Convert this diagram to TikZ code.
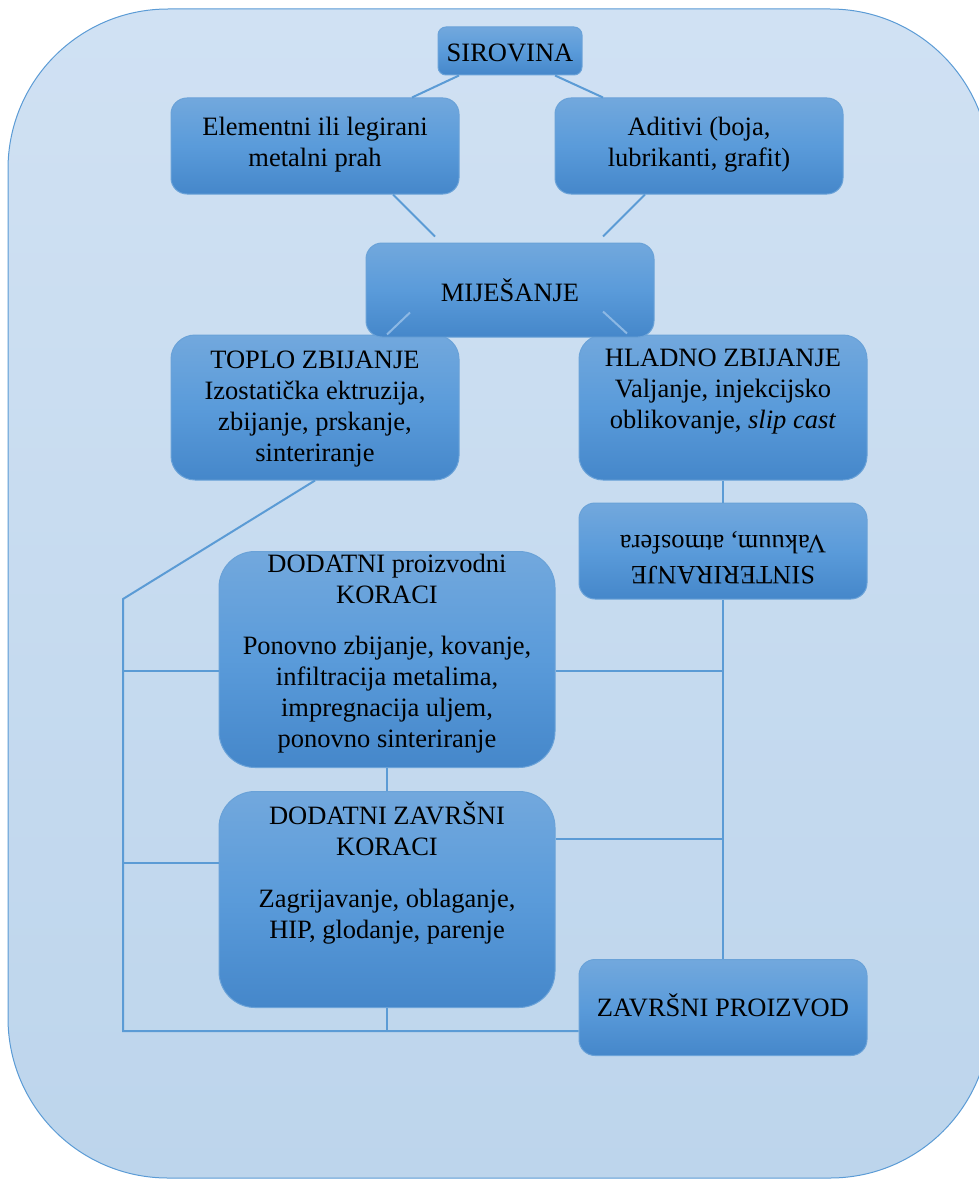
\documentclass[tikz,border=0pt]{standalone}
\usepackage{fontspec}
\setmainfont{Liberation Serif}
\usetikzlibrary{calc}
\definecolor{bgtop}{HTML}{D0E1F3}
\definecolor{bgbot}{HTML}{BDD5EC}
\definecolor{bgline}{HTML}{5B9BD5}
\definecolor{boxtop}{HTML}{72A8DD}
\definecolor{boxmid}{HTML}{5A9BDA}
\definecolor{boxbot}{HTML}{4587CA}
\definecolor{boxline}{HTML}{6AA2D8}
\definecolor{conn}{HTML}{5B9BD5}
\definecolor{connlight}{HTML}{8CB8E4}
\tikzset{
  box/.style={rectangle, draw=boxline, line width=1pt, top color=boxtop, bottom color=boxbot, middle color=boxmid, inner sep=0pt},
  txt/.style={anchor=base, align=center, inner sep=0pt, font=\fontsize{26.5}{31}\selectfont},
  link/.style={draw=conn, line width=2pt},
  linklight/.style={draw=connlight, line width=2pt},
}
\begin{document}
\begin{tikzpicture}[x=1pt,y=-1pt]
\useasboundingbox (0,0) rectangle (979,1180);
\clip (0,0) rectangle (979,1180);
% background
\path[draw=bgline, line width=1pt, top color=bgtop, bottom color=bgbot, rounded corners=160pt] (8,9) rectangle (990,1178);

% boxes (positions)
\coordinate (csir) at (510,51);
\coordinate (celem) at (315,146);
\coordinate (cadit) at (699,146);
\coordinate (cmij) at (510,290);
\coordinate (ctoplo) at (315,407.5);
\coordinate (chlad) at (723,407.5);
\coordinate (csint) at (723,551);
\coordinate (cdpk) at (387,659.5);
\coordinate (cdzk) at (387,899.5);
\coordinate (czp) at (723,1007.5);

% connector points
\coordinate (lt) at (123,599);
\coordinate (lb) at (123,1031);
\coordinate (l1) at (123,671);
\coordinate (l2) at (123,863);
\coordinate (r1) at (723,671);
\coordinate (r2) at (723,839);

\node[box, minimum width=144pt, minimum height=48pt, rounded corners=8pt] (sir) at (csir) {};
\node[box, minimum width=288pt, minimum height=96pt, rounded corners=16pt] (elem) at (celem) {};
\node[box, minimum width=288pt, minimum height=96pt, rounded corners=16pt] (adit) at (cadit) {};
\node[box, minimum width=288pt, minimum height=145pt, rounded corners=24pt] (toplo) at (ctoplo) {};
\node[box, minimum width=288pt, minimum height=145pt, rounded corners=24pt] (hlad) at (chlad) {};
\node[box, minimum width=288pt, minimum height=94pt, rounded corners=16pt] (mij) at (cmij) {};
\node[box, minimum width=288pt, minimum height=96pt, rounded corners=16pt] (sint) at (csint) {};
\node[box, minimum width=336pt, minimum height=216pt, rounded corners=36pt] (dpk) at (cdpk) {};
\node[box, minimum width=336pt, minimum height=216pt, rounded corners=36pt] (dzk) at (cdzk) {};
\node[box, minimum width=288pt, minimum height=96pt, rounded corners=16pt] (zp) at (czp) {};

% connectors
\draw[link] ($(sir.south)+(-51,0)$) -- ($(elem.north)+(97,0)$);
\draw[link] ($(sir.south)+(45,0)$) -- ($(adit.north)+(-96,0)$);
\draw[link] ($(elem.south)+(78,0)$) -- ($(mij.north)+(-75,-6)$);
\draw[link] ($(adit.south)+(-54,0)$) -- ($(mij.north)+(93,-6)$);
\draw[linklight] ($(mij.south)+(-100,-25)$) -- ($(toplo.north)+(72,0)$);
\draw[linklight] ($(mij.south)+(93,-26)$) -- ($(hlad.north)+(-96,-1)$);
\draw[link] (toplo.south) -- (lt) -- (lb) -- (zp.west |- lb);
\draw[link] (l1) -- (dpk.west |- l1);
\draw[link] (l2) -- (dzk.west |- l2);
\draw[link] (dpk.east |- r1) -- (r1);
\draw[link] (dzk.east |- r2) -- (r2);
\draw[link] (hlad.south) -- (sint.north);
\draw[link] (sint.south) -- (zp.north);
\draw[link] (dpk.south) -- (dzk.north);
\draw[link] (dzk.south) -- (dzk.south |- lb);

% texts (base = baseline of the last line)
\node[txt] (tsir) at (510,62) {SIROVINA};
\node[txt] (telem) at (315,166) {Elementni ili legirani\\metalni prah};
\node[txt] (tadit) at (699,166) {Aditivi (boja,\\lubrikanti, grafit)};
\node[txt] (tmij) at (510,301) {MIJEŠANJE};
\node[txt] (ttoplo) at (315,461) {TOPLO ZBIJANJE\\Izostatička ektruzija,\\zbijanje, prskanje,\\sinteriranje};
\node[txt] (thlad) at (723,428) {HLADNO ZBIJANJE\\Valjanje, injekcijsko\\oblikovanje, \textit{slip cast}};
\node[txt, rotate=180] (tsint) at (723,535) {SINTERIRANJE\\Vakuum, atmosfera};
\node[txt] (tdpk) at (387,747) {DODATNI proizvodni\\KORACI\\[20pt]Ponovno zbijanje, kovanje,\\infiltracija metalima,\\impregnacija uljem,\\ponovno sinteriranje};
\node[txt] (tdzk) at (387,938) {DODATNI ZAVRŠNI\\KORACI\\[21pt]Zagrijavanje, oblaganje,\\HIP, glodanje, parenje};
\node[txt] (tzp) at (723,1016) {ZAVRŠNI PROIZVOD};
\end{tikzpicture}
\end{document}
